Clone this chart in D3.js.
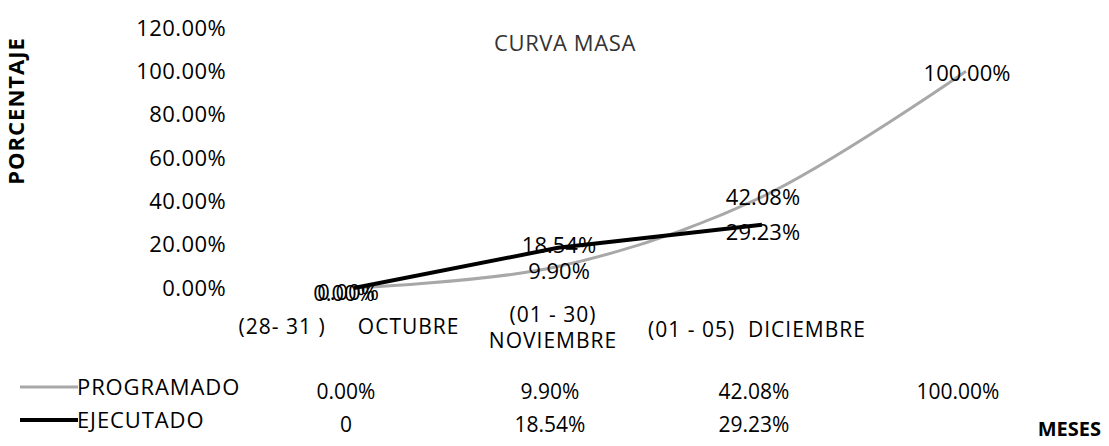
<!DOCTYPE html>
<html>
<head>
<meta charset="utf-8">
<script src="https://cdn.jsdelivr.net/npm/d3@7"></script>
<style>
  body { margin: 0; background: #fff; }
  text { font-family: "Open Sans", sans-serif; fill: #000; white-space: pre; }
</style>
</head>
<body>
<svg width="1109" height="446"></svg>
<script>
// categories of the x axis (one entry per line)
var categories = [
  ["(28- 31 )     OCTUBRE"],
  ["(01 - 30)", "NOVIEMBRE"],
  ["(01 - 05)  DICIEMBRE"],
  [""]
];
var programado = [0, 9.90, 42.08, 100];
var ejecutado = [0, 18.54, 29.23];
var programadoTabla = ["0.00%", "9.90%", "42.08%", "100.00%"];
var ejecutadoTabla = ["0", "18.54%", "29.23%", ""];
var yTicks = [0, 20, 40, 60, 80, 100, 120];

var svg = d3.select("svg");

var x = d3.scalePoint()
    .domain(d3.range(categories.length))
    .range([354, 966]);

var y = d3.scaleLinear()
    .domain([0, 120])
    .range([288, 28]);

var fmt = function(v) { return v.toFixed(2) + "%"; };

// y tick labels, no axis line
var yAxis = svg.append("g")
    .attr("transform", "translate(226,0)")
    .call(d3.axisLeft(y).tickValues(yTicks).tickFormat(fmt).tickSize(0).tickPadding(0));
yAxis.select(".domain").remove();
yAxis.selectAll("text")
    .style("font-family", "Open Sans")
    .style("font-size", "22px")
    .style("letter-spacing", "0.4px")
    .attr("fill", "#000");

// title
svg.append("text")
    .attr("x", 565)
    .attr("y", 51)
    .attr("text-anchor", "middle")
    .style("font-size", "22px")
    .style("letter-spacing", "0.6px")
    .style("fill", "#333")
    .text("CURVA MASA");

// axis titles
svg.append("text")
    .attr("transform", "translate(24,111) rotate(-90)")
    .attr("text-anchor", "middle")
    .style("font-size", "22px")
    .style("letter-spacing", "1px")
    .style("font-weight", "bold")
    .text("PORCENTAJE");

svg.append("text")
    .attr("x", 1101)
    .attr("y", 436)
    .attr("text-anchor", "end")
    .style("font-size", "20px")
    .style("font-weight", "bold")
    .text("MESES");

// category labels
var cat = svg.append("g").selectAll("text")
    .data(categories)
  .enter().append("text")
    .attr("x", function(d, i) { return x(i) - 5; })
    .attr("y", function(d, i) { return d.length > 1 ? 322 : (i === 2 ? 337 : 334); })
    .attr("text-anchor", "middle")
    .style("font-size", "21px")
    .style("letter-spacing", "1px");
cat.selectAll("tspan")
    .data(function(d) { return d; })
  .enter().append("tspan")
    .attr("x", function() { return d3.select(this.parentNode).attr("x"); })
    .attr("dy", function(d, i) { return i ? 26 : 0; })
    .text(function(d) { return d; });

// lines
var linea = d3.line()
    .x(function(d, i) { return x(i); })
    .y(function(d) { return y(d); });

svg.append("path")
    .datum(programado)
    .attr("fill", "none")
    .attr("stroke", "#a8a8a8")
    .attr("stroke-width", 3)
    .attr("d", linea.curve(d3.curveCatmullRom.alpha(0.5)));

svg.append("path")
    .datum(ejecutado)
    .attr("fill", "none")
    .attr("stroke", "#000")
    .attr("stroke-width", 4)
    .attr("d", linea.curve(d3.curveLinear));

// data labels
var etiquetas = svg.append("g")
    .style("font-size", "22px")
    .attr("text-anchor", "middle");

etiquetas.selectAll(".prog")
    .data(programado)
  .enter().append("text")
    .attr("class", "prog")
    .attr("x", function(d, i) { return x(i) + (i === 0 ? -10 : 1); })
    .attr("y", function(d, i) { return y(d) + (i === 2 ? 0 : (i === 3 ? 2 : 5)); })
    .attr("dy", "0.35em")
    .text(fmt);

etiquetas.selectAll(".ejec")
    .data(ejecutado)
  .enter().append("text")
    .attr("class", "ejec")
    .attr("x", function(d, i) { return x(i) + (i === 0 ? -6 : 1); })
    .attr("y", function(d, i) { return y(d) + (i === 0 ? 4 : (i === 1 ? -3 : 8)); })
    .attr("dy", "0.35em")
    .text(fmt);

// data table below the chart
var filas = [
  { nombre: "PROGRAMADO", valores: programadoTabla, color: "#a8a8a8", ancho: 3, y: 387 },
  { nombre: "EJECUTADO", valores: ejecutadoTabla, color: "#000", ancho: 4, y: 420 }
];

var fila = svg.append("g").selectAll("g")
    .data(filas)
  .enter().append("g");

fila.append("line")
    .attr("x1", 20).attr("x2", 78)
    .attr("y1", function(d) { return d.y; })
    .attr("y2", function(d) { return d.y; })
    .attr("stroke", function(d) { return d.color; })
    .attr("stroke-width", function(d) { return d.ancho; });

fila.append("text")
    .attr("x", 77)
    .attr("y", function(d) { return d.y; })
    .attr("dy", "0.35em")
    .style("font-size", "22px")
    .style("letter-spacing", "0.9px")
    .text(function(d) { return d.nombre; });

fila.selectAll(".valor")
    .data(function(d) { return d.valores.map(function(v) { return { v: v, y: d.y }; }); })
  .enter().append("text")
    .attr("class", "valor")
    .attr("x", function(d, i) { return x(i) - 8; })
    .attr("y", function(d) { return d.y + 5; })
    .attr("dy", "0.35em")
    .attr("text-anchor", "middle")
    .style("font-size", "21px")
    .text(function(d) { return d.v; });
</script>
</body>
</html>
